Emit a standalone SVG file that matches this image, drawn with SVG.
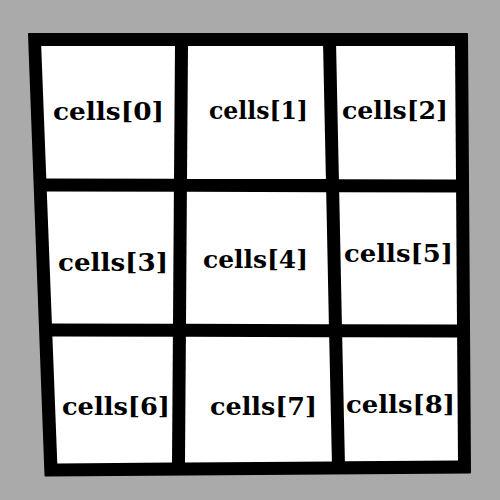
<svg xmlns="http://www.w3.org/2000/svg" width="500" height="500" viewBox="0 0 500 500">
<style>
.cell{fill:#ffffff}
.lbl{font-family:"DejaVu Serif","Liberation Serif",serif;font-weight:bold;font-size:25px;fill:#000000}
</style>
<rect width="500" height="500" fill="#aaaaaa"/>
<g id="grid-lines">
<polygon points="29,34 467,34 470,472.5 45.5,475.5" fill="#000000" stroke="#000000" stroke-width="2" stroke-linejoin="round"/>
</g>
<g id="cell0"><polygon class="cell" points="41.2,46 175,46 174,178.8 46.3,178.5"/><text class="lbl" x="53" y="120" textLength="111" lengthAdjust="spacingAndGlyphs">cells[0]</text></g>
<g id="cell1"><polygon class="cell" points="188,46 323.1,46 325.9,179.1 187,178.9"/><text class="lbl" x="209" y="119" textLength="99" lengthAdjust="spacingAndGlyphs">cells[1]</text></g>
<g id="cell2"><polygon class="cell" points="336.1,46 455,46 456,179.5 338.9,179.2"/><text class="lbl" x="342" y="119" textLength="106" lengthAdjust="spacingAndGlyphs">cells[2]</text></g>
<g id="cell3"><polygon class="cell" points="46.8,191.5 173.9,191.8 173,323.8 51.9,323.5"/><text class="lbl" x="58" y="271" textLength="110" lengthAdjust="spacingAndGlyphs">cells[3]</text></g>
<g id="cell4"><polygon class="cell" points="186.9,191.8 326.2,192.2 328.9,324.2 186,323.8"/><text class="lbl" x="203" y="268" textLength="105" lengthAdjust="spacingAndGlyphs">cells[4]</text></g>
<g id="cell5"><polygon class="cell" points="339.2,192.2 456.1,192.5 457,324.5 341.9,324.2"/><text class="lbl" x="344" y="262" textLength="109" lengthAdjust="spacingAndGlyphs">cells[5]</text></g>
<g id="cell6"><polygon class="cell" points="52.4,336.5 172.9,336.8 172,462.5 57.3,463.5"/><text class="lbl" x="62" y="415" textLength="108" lengthAdjust="spacingAndGlyphs">cells[6]</text></g>
<g id="cell7"><polygon class="cell" points="185.9,336.8 329.2,337.2 331.9,461.5 185,462.5"/><text class="lbl" x="210" y="415" textLength="107" lengthAdjust="spacingAndGlyphs">cells[7]</text></g>
<g id="cell8"><polygon class="cell" points="342.2,337.2 457.1,337.5 458,460.5 344.9,461.2"/><text class="lbl" x="346" y="413" textLength="109" lengthAdjust="spacingAndGlyphs">cells[8]</text></g>
</svg>
